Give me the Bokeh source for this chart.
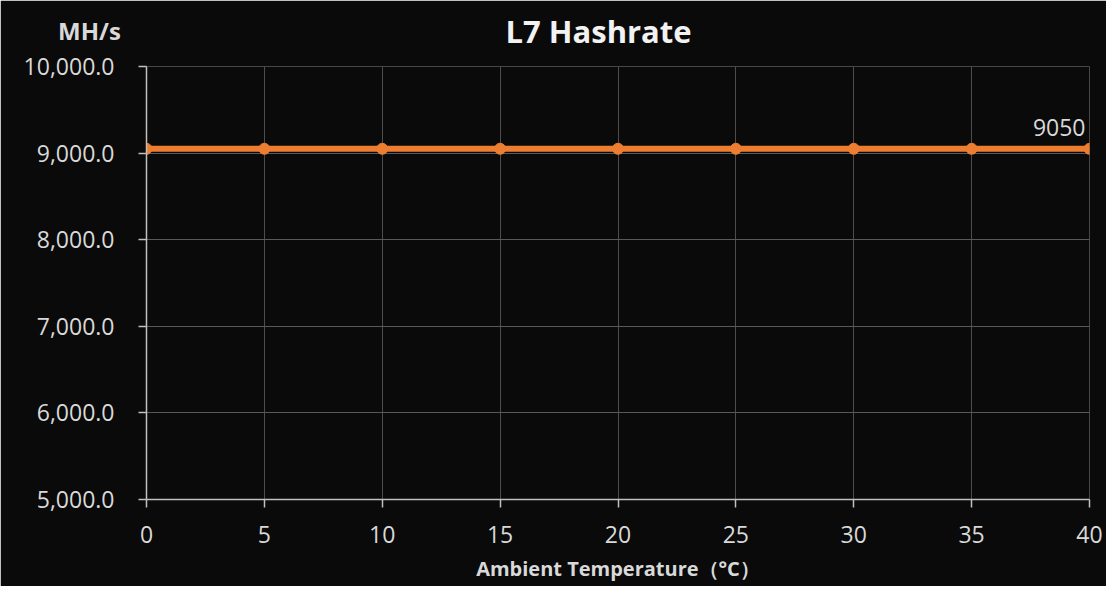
from bokeh.plotting import figure
from bokeh.models import Label, NumeralTickFormatter, FixedTicker, Range1d, ColumnDataSource
from bokeh.embed import file_html
from bokeh.resources import INLINE
from bokeh.core.properties import value

temps = [0, 5, 10, 15, 20, 25, 30, 35, 40]
hashrate = [9050, 9050, 9050, 9050, 9050, 9050, 9050, 9050, 9050]
x_ticks = [0, 5, 10, 15, 20, 25, 30, 35, 40]
y_ticks = [5000, 6000, 7000, 8000, 9000, 10000]

FONT = "Open Sans"
BG = "#0a0a0a"
TXT = "#d9d9d9"
ORANGE = "#ED7D31"

p = figure(width=1106, height=586, output_backend="svg", toolbar_location=None,
           x_range=Range1d(0, 40), y_range=Range1d(5000, 10000),
           min_border_left=146, min_border_right=17, min_border_top=66, min_border_bottom=87)
p.background_fill_color = BG
p.border_fill_color = BG
p.outline_line_color = None

p.title.text = "L7 Hashrate"
p.title.align = "left"
p.title.offset = 359
p.title.vertical_align = "bottom"
p.title.text_font = FONT
p.title.text_font_size = "31px"
p.title.text_font_style = "bold"
p.title.text_color = "#f2f2f2"
p.title.standoff = -37

unit = Label(x=89, y=30, x_units="canvas", y_units="canvas", text="MH/s",
             text_font=FONT, text_font_size="24px", text_font_style="bold",
             text_color=TXT, text_align="center", text_baseline="middle")
p.add_layout(unit, "above")

p.xaxis.ticker = FixedTicker(ticks=x_ticks)
p.yaxis.ticker = FixedTicker(ticks=y_ticks)
p.yaxis.formatter = NumeralTickFormatter(format="0,0.0")

for ax in (p.xaxis, p.yaxis):
    ax.axis_line_color = "#c0c0c0"
    ax.axis_line_width = 1.5
    ax.major_tick_line_color = "#c0c0c0"
    ax.major_tick_line_width = 1.5
    ax.major_tick_out = 8
    ax.major_tick_in = 0
    ax.minor_tick_line_color = None
    ax.major_label_text_color = TXT
    ax.major_label_text_font = FONT
    ax.major_label_text_font_size = "23px"

p.yaxis.major_label_standoff = 24
p.xaxis.major_label_standoff = 18
p.xaxis.axis_label = "Ambient Temperature（°C）"
p.xaxis.axis_label_text_font = FONT
p.xaxis.axis_label_text_font_size = "20px"
p.xaxis.axis_label_text_font_style = "bold"
p.xaxis.axis_label_text_color = TXT
p.xaxis.axis_label_standoff = 9

p.xgrid.grid_line_color = "#4d4d4d"
p.ygrid.grid_line_color = "#595959"

src = ColumnDataSource(dict(x=temps, y=hashrate))
p.line("x", "y", source=src, line_color=ORANGE, line_width=6)
p.scatter("x", "y", source=src, size=11, fill_color=ORANGE, line_color=ORANGE)

p.text(x=[temps[-1]], y=[hashrate[-1]], text=[str(hashrate[-1])],
       text_font=value(FONT), text_font_size="23px", text_color=TXT,
       text_align="right", text_baseline="bottom", x_offset=-4, y_offset=-13)

open("out.html", "w").write(file_html(p, INLINE))
